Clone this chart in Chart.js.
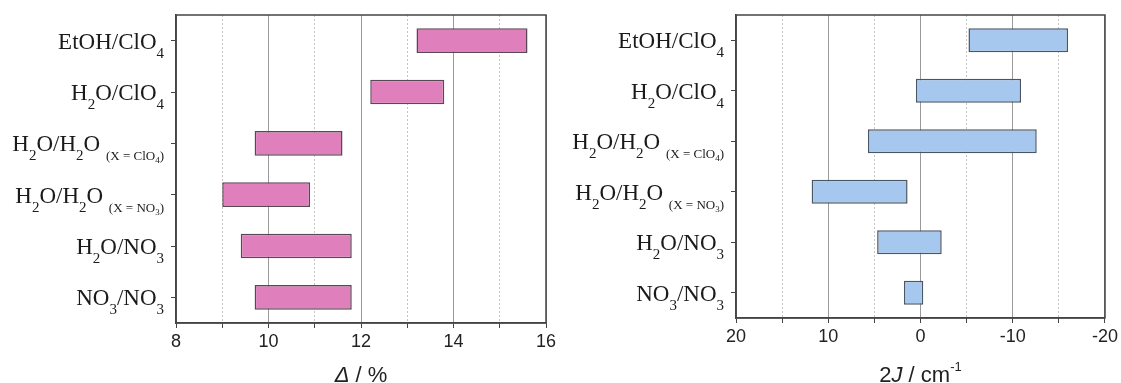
<!DOCTYPE html>
<html>
<head>
<meta charset="utf-8">
<script src="https://cdn.jsdelivr.net/npm/chart.js@4"></script>
<style>
  html, body { margin: 0; padding: 0; background: #fff; }
  .box { position: absolute; top: 0; height: 383px; }
  #leftBox { left: 0; width: 560px; }
  #rightBox { left: 560px; width: 561px; }
</style>
</head>
<body>
<div class="box" id="leftBox"><canvas id="left"></canvas></div>
<div class="box" id="rightBox"><canvas id="right"></canvas></div>
<script>
// categories, top to bottom. "_" = next char subscript, "~" = rest in small type
const categories = [
  "EtOH/ClO_4",
  "H_2O/ClO_4",
  "H_2O/H_2O ~(X = ClO_4)",
  "H_2O/H_2O ~(X = NO_3)",
  "H_2O/NO_3",
  "NO_3/NO_3",
];

// left panel: Delta / %
const deltaLow = [13.2, 12.2, 9.7, 9.0, 9.4, 9.7];
const deltaHigh = [15.6, 13.8, 11.6, 10.9, 11.8, 11.8];
const deltaTicks = [8, 10, 12, 14, 16];

// right panel: 2J / cm-1
const jLow = [-5.2, 0.5, 5.7, 11.8, 4.7, 1.8];
const jHigh = [-16.0, -10.9, -12.6, 1.4, -2.3, -0.3];
const jTicks = [20, 10, 0, -10, -20];

const FONT_SANS = "'Liberation Sans', Arial, sans-serif";
const FONT_SERIF = "'Liberation Serif', 'Times New Roman', serif";

const runStyle = {
  m: { size: 23, dy: 0 },
  msub: { size: 15, dy: 9 },
  s: { size: 13, dy: 9 },
  ssub: { size: 9, dy: 12 },
};

function parseRich(str) {
  const runs = [];
  let small = false;
  for (let i = 0; i < str.length; i++) {
    let c = str[i];
    if (c === "~") { small = true; continue; }
    let sub = false;
    if (c === "_") { sub = true; c = str[++i]; }
    const kind = (small ? "s" : "m") + (sub ? "sub" : "");
    const last = runs[runs.length - 1];
    if (last && last.kind === kind) last.text += c;
    else runs.push({ kind, text: c });
  }
  return runs;
}

function drawRich(ctx, str, right, baseline) {
  const runs = parseRich(str);
  let total = 0;
  runs.forEach(r => {
    ctx.font = runStyle[r.kind].size + "px " + FONT_SERIF;
    r.w = ctx.measureText(r.text).width;
    total += r.w;
  });
  let x = right - total;
  ctx.textAlign = "left";
  ctx.textBaseline = "alphabetic";
  runs.forEach(r => {
    const st = runStyle[r.kind];
    ctx.font = st.size + "px " + FONT_SERIF;
    ctx.fillText(r.text, x, baseline + st.dy);
    x += r.w;
  });
}

// title pieces: [text, italic, superscript]
function drawTitle(ctx, pieces, cx, baseline) {
  let total = 0;
  const fontOf = p => (p[1] ? "italic " : "") + (p[2] ? 13 : 22) + "px " + FONT_SANS;
  pieces.forEach(p => { ctx.font = fontOf(p); p.w = ctx.measureText(p[0]).width; total += p.w; });
  let x = cx - total / 2;
  ctx.textAlign = "left";
  ctx.textBaseline = "alphabetic";
  pieces.forEach(p => {
    ctx.font = fontOf(p);
    ctx.fillText(p[0], x, baseline - (p[2] ? 11 : 0));
    x += p.w;
  });
}

function framePlugin(titlePieces) {
  return {
    id: "frameAndLabels",
    afterDraw(chart) {
      const { ctx, chartArea: a } = chart;
      const ys = chart.scales.y;
      ctx.save();
      ctx.strokeStyle = "#444";
      ctx.lineWidth = 1.5;
      ctx.strokeRect(a.left, a.top, a.right - a.left, a.bottom - a.top);
      ctx.fillStyle = "#1a1a1a";
      categories.forEach((lab, i) => {
        drawRich(ctx, lab, a.left - 12, ys.getPixelForTick(i) + 8);
      });
      ctx.fillStyle = "#222";
      drawTitle(ctx, titlePieces.map(p => p.slice()), (a.left + a.right) / 2, 382);
      ctx.restore();
    },
  };
}

function makeChart(id, low, high, opts) {
  const ctx = document.getElementById(id).getContext("2d");
  return new Chart(ctx, {
    type: "bar",
    data: {
      labels: categories,
      datasets: [{
        data: low.map((v, i) => [v, high[i]]),
        backgroundColor: opts.fill,
        borderColor: opts.stroke,
        borderWidth: 1.5,
        borderSkipped: false,
        categoryPercentage: 1,
        barPercentage: 0.48,
      }],
    },
    options: {
      indexAxis: "y",
      responsive: true,
      maintainAspectRatio: false,
      animation: false,
      layout: { padding: { top: 15, right: opts.padRight, bottom: 0, left: 0 } },
      plugins: { legend: { display: false }, tooltip: { enabled: false } },
      scales: {
        x: {
          min: opts.min,
          max: opts.max,
          reverse: opts.reverse,
          afterFit: s => { s.height = opts.xHeight; },
          afterBuildTicks: s => { s.ticks = opts.allTicks.map(v => ({ value: v })); },
          ticks: {
            color: "#222",
            font: { family: FONT_SANS, size: 18 },
            padding: 3,
            maxRotation: 0,
            autoSkip: false,
            callback: v => (opts.labelTicks.includes(v) ? String(v) : ""),
          },
          grid: {
            color: c => (c.tick && opts.labelTicks.includes(c.tick.value) ? "#9a9a9a" : "#c4c4c4"),
            lineWidth: 1,
            tickColor: "#444",
            tickLength: 5,
          },
          border: {
            color: "#444",
            width: 1.5,
            dash: c => (c.tick && !opts.labelTicks.includes(c.tick.value) ? [2, 2] : []),
          },
        },
        y: {
          afterFit: s => { s.width = 176; },
          ticks: { display: false },
          grid: {
            offset: false,
            drawOnChartArea: false,
            tickColor: "#444",
            tickLength: 5,
          },
          border: { color: "#444", width: 1.5 },
        },
      },
    },
    plugins: [framePlugin(opts.title)],
  });
}

const deltaMinor = [8, 9, 10, 11, 12, 13, 14, 15, 16];
const jMinor = [20, 15, 10, 5, 0, -5, -10, -15, -20];

makeChart("left", deltaLow, deltaHigh, {
  fill: "rgb(223, 127, 188)",
  stroke: "#5a4654",
  min: 8, max: 16, reverse: false,
  allTicks: deltaMinor, labelTicks: deltaTicks,
  padRight: 14, xHeight: 60,
  title: [["Δ", true, false], [" / %", false, false]],
});

makeChart("right", jLow, jHigh, {
  fill: "rgb(166, 200, 238)",
  stroke: "#4c5662",
  min: -20, max: 20, reverse: true,
  allTicks: jMinor, labelTicks: jTicks,
  padRight: 15, xHeight: 65,
  title: [["2", false, false], ["J", true, false], [" / cm", false, false], ["-1", false, true]],
});
</script>
</body>
</html>
